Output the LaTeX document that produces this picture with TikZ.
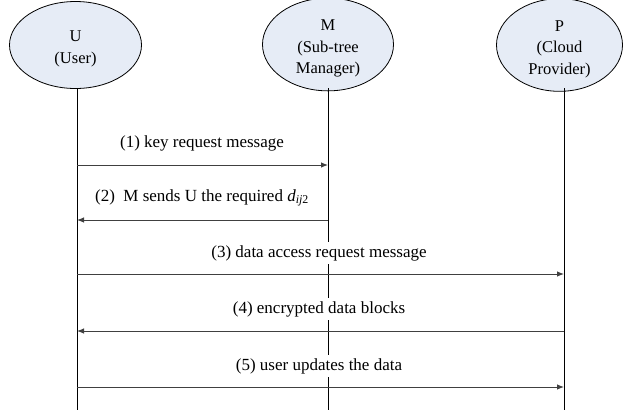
\documentclass[tikz,border=0pt]{standalone}
\usepackage{fontspec}
\setmainfont{Liberation Serif}
\newfontfamily\tnr{Liberation Serif}
\usetikzlibrary{shapes.geometric,arrows.meta}
\definecolor{actorfill}{RGB}{230,236,246}
\definecolor{arrowgray}{RGB}{64,64,64}
\newcommand{\toppad}{\rule{0pt}{19pt}}
\tikzset{
  actor/.style={ellipse, draw=black, line width=0.8pt, fill=actorfill,
    minimum width=132pt, minimum height=87pt, inner sep=0pt, align=center,
    font=\tnr\fontsize{16.5}{21.5}\selectfont},
  lifeline/.style={draw=black, line width=0.8pt},
  msg/.style={draw=arrowgray, line width=0.9pt, -{Latex[length=7pt,width=5.5pt]}},
  msglabel/.style={fill=white, inner xsep=2pt, inner ysep=3pt,
    font=\tnr\fontsize{17}{19}\selectfont}
}
\begin{document}
\begin{tikzpicture}[x=1pt,y=-1pt]
\useasboundingbox (0,0) rectangle (623,410);
% actors
\node[actor] (U) at (75.5,45) {\toppad U\\(User)};
\node[actor, minimum width=131pt] (M) at (328,44.5) {\toppad M\\(Sub-tree\\Manager)};
\node[actor, minimum width=126pt] (P) at (559.5,45) {\toppad P\\(Cloud\\Provider)};
% lifeline ends
\coordinate (Ut) at (77,88);   \coordinate (Ub) at (77,410);
\coordinate (Mt) at (328,88);  \coordinate (Mb) at (328,410);
\coordinate (Pt) at (564,88);  \coordinate (Pb) at (564,410);
\draw[lifeline] (Ut) -- (Ub);
\draw[lifeline] (Mt) -- (Mb);
\draw[lifeline] (Pt) -- (Pb);
% message anchor points
\coordinate (a1s) at (77,165);  \coordinate (a1e) at (328,165);
\coordinate (a2s) at (328,220); \coordinate (a2e) at (77,220);
\coordinate (a3s) at (77,274);  \coordinate (a3e) at (564,274);
\coordinate (a4s) at (564,331); \coordinate (a4e) at (77,331);
\coordinate (a5s) at (77,387);  \coordinate (a5e) at (564,387);
% labels
\node[msglabel] (l1) at (202,143) {(1) key request message};
\node[msglabel] (l2) at (202,198) {(2)\ \ M sends U the required \textit{d}\textsubscript{\textit{ij}2}};
\node[msglabel] (l3) at (319,253) {(3) data access request message};
\node[msglabel] (l4) at (319,309) {(4) encrypted data blocks};
\node[msglabel] (l5) at (319,366) {(5) user updates the data};
% messages
\draw[msg] (a1s) -- (a1e);
\draw[msg] (a2s) -- (a2e);
\draw[msg] (a3s) -- (a3e);
\draw[msg] (a4s) -- (a4e);
\draw[msg] (a5s) -- (a5e);
\end{tikzpicture}
\end{document}
